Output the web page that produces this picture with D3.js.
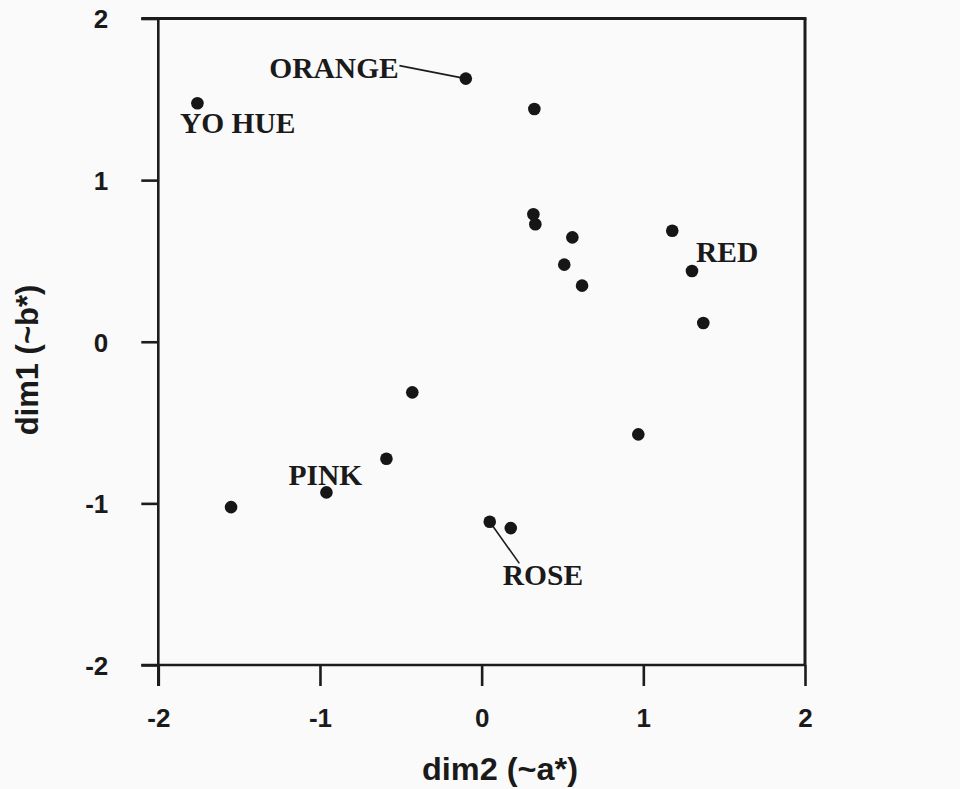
<!DOCTYPE html>
<html>
<head>
<meta charset="utf-8">
<script src="https://cdn.jsdelivr.net/npm/d3@7"></script>
<style>
  html, body { margin: 0; padding: 0; background: #fafafa; }
  svg { display: block; }
</style>
</head>
<body>
<script>
// ---- Data ----
const dim2Values = [-1.758, -0.098, 0.326, 0.320, 0.332, 0.561, 0.511, 0.621, 1.179, 1.301, 1.371, -0.429, 0.969, -0.589, -0.960, -1.550, 0.050, 0.180];
const dim1Values = [1.476, 1.628, 1.440, 0.789, 0.727, 0.646, 0.477, 0.347, 0.687, 0.438, 0.116, -0.313, -0.573, -0.724, -0.932, -1.023, -1.114, -1.153];
const pointLabels = ["YO HUE", "ORANGE", "", "", "", "", "", "", "", "RED", "", "", "", "", "PINK", "", "ROSE", ""];
const xTicks = [-2, -1, 0, 1, 2];
const yTicks = [-2, -1, 0, 1, 2];
const xTitle = "dim2 (~a*)";
const yTitle = "dim1 (~b*)";

// ---- Layout (label placement relative to its point, in px) ----
const labelLayout = {
  "YO HUE": { dx: -17.5, dy: 29.5 },
  "ORANGE": { dx: -196.5, dy: -0.4, leader: [-66.4, -13] },
  "RED":    { dx: 4, dy: -8.7 },
  "PINK":   { dx: -38, dy: -7.3 },
  "ROSE":   { dx: 13, dy: 63.3, leader: [29.6, 41.6] }
};

const W = 960, H = 789;
const svg = d3.select("body").append("svg").attr("width", W).attr("height", H);
svg.append("rect").attr("width", W).attr("height", H).attr("fill", "#fafafa");

const pLeft = 158.3, pRight = 805, pTop = 18.5, pBottom = 665;
const x = d3.scaleLinear().domain([-2, 2]).range([pLeft, pRight]);
const y = d3.scaleLinear().domain([-2, 2]).range([pBottom, pTop]);

const ink = "#1c1c1c";
const sansFont = "'Liberation Sans', Arial, sans-serif";
const tickFmt = d => String(d);

// frame: top and right lines
svg.append("line").attr("x1", pLeft - 17).attr("x2", pRight + 1.5).attr("y1", pTop).attr("y2", pTop)
  .attr("stroke", ink).attr("stroke-width", 3);
svg.append("line").attr("x1", pRight).attr("x2", pRight).attr("y1", pTop).attr("y2", pBottom)
  .attr("stroke", ink).attr("stroke-width", 3);

// x axis
const xAxis = d3.axisBottom(x).tickValues(xTicks).tickFormat(tickFmt).tickSize(21).tickSizeOuter(0).tickPadding(10);
const gx = svg.append("g").attr("transform", `translate(0,${pBottom})`).call(xAxis);
gx.select(".domain").attr("stroke", ink).attr("stroke-width", 2.6).attr("d", `M${pLeft - 17},0H${pRight}`);
gx.selectAll(".tick line").attr("stroke", ink).attr("stroke-width", 2.6);
gx.selectAll(".tick text").attr("fill", "#1a1a1a")
  .style("font-family", sansFont).style("font-weight", "bold").style("font-size", "26px")
  .attr("y", 62).attr("dy", 0);

// y axis
const yAxis = d3.axisLeft(y).tickValues(yTicks).tickFormat(tickFmt).tickSize(17).tickSizeOuter(0).tickPadding(10);
const gy = svg.append("g").attr("transform", `translate(${pLeft},0)`).call(yAxis);
gy.select(".domain").attr("stroke", ink).attr("stroke-width", 2.6).attr("d", `M0,${pTop}V${pBottom + 21}`);
gy.selectAll(".tick line").attr("stroke", ink).attr("stroke-width", 2.6);
gy.selectAll(".tick text").attr("fill", "#1a1a1a")
  .style("font-family", sansFont).style("font-weight", "bold").style("font-size", "26px")
  .attr("x", -50).attr("dy", "0.36em");

// axis titles
svg.append("text").attr("x", 500).attr("y", 780).attr("text-anchor", "middle")
  .attr("fill", "#1a1a1a")
  .style("font-family", sansFont).style("font-weight", "bold").style("font-size", "31px")
  .attr("textLength", 156).attr("lengthAdjust", "spacingAndGlyphs")
  .text(xTitle);
svg.append("text").attr("transform", "translate(38,360) rotate(-90)").attr("text-anchor", "middle")
  .attr("fill", "#1a1a1a")
  .style("font-family", sansFont).style("font-weight", "bold").style("font-size", "31px")
  .text(yTitle);

// points
const pts = dim2Values.map((v, i) => ({ dx2: v, dy1: dim1Values[i], label: pointLabels[i] }));

// leaders
pts.filter(p => p.label && labelLayout[p.label].leader).forEach(p => {
  const L = labelLayout[p.label];
  svg.append("line")
    .attr("x1", x(p.dx2)).attr("y1", y(p.dy1))
    .attr("x2", x(p.dx2) + L.leader[0]).attr("y2", y(p.dy1) + L.leader[1])
    .attr("stroke", ink).attr("stroke-width", 1.6);
});

svg.append("g").selectAll("circle").data(pts).join("circle")
  .attr("cx", d => x(d.dx2)).attr("cy", d => y(d.dy1)).attr("r", 6.3)
  .attr("fill", "#161616");

// labels
svg.append("g").selectAll("text").data(pts.filter(p => p.label)).join("text")
  .attr("x", d => x(d.dx2) + labelLayout[d.label].dx)
  .attr("y", d => y(d.dy1) + labelLayout[d.label].dy)
  .attr("fill", "#1a1a1a")
  .style("font-family", "'Liberation Serif', 'Times New Roman', serif").style("font-weight", "bold").style("font-size", "29.5px")
  .text(d => d.label);
</script>
</body>
</html>
